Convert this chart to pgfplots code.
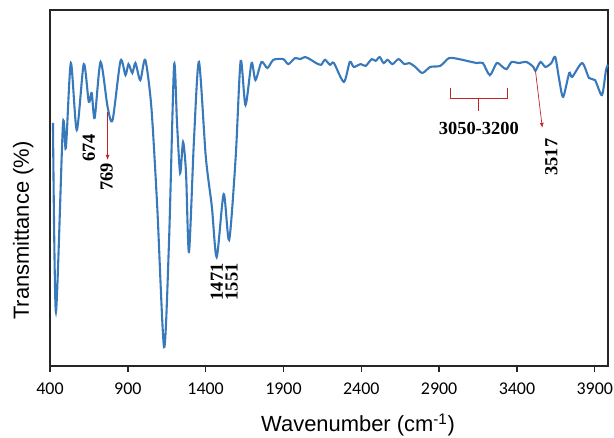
\documentclass[border=0pt]{standalone}
\usepackage{pgfplots}
\pgfplotsset{compat=1.18}
\usepackage{fontspec}
\usetikzlibrary{arrows.meta}
\setmainfont{Liberation Serif}
\newfontfamily\arialf{Liberation Sans}
\newfontfamily\calf{Carlito}
\definecolor{irblue}{RGB}{56,121,188}
\definecolor{arrred}{RGB}{192,36,36}

\begin{document}
\begin{tikzpicture}
\begin{axis}[
    name=ax,
    scale only axis,
    width=558bp, height=356bp,
    xmin=400, xmax=3985,
    ymin=0, ymax=100,
    axis line style={line width=1.6pt, black!85},
    xtick={400,900,...,3900},
    ytick=\empty,
    tick align=outside,
    xtick pos=bottom,
    major tick length=6pt,
    tick style={line width=1.4pt, black!85},
    /pgf/number format/assume math mode=true,
    /pgf/number format/set thousands separator={},
    xticklabel style={font=\calf\fontsize{18}{20}\selectfont, yshift=-7pt},
    xlabel={Wavenumber (cm\textsuperscript{-1})},
    ylabel={Transmittance (\%)},
    xlabel style={font=\arialf\fontsize{22}{24}\selectfont, at={(axis description cs:0.552,-0.166)}, anchor=center},
    ylabel style={font=\arialf\fontsize{22}{24}\selectfont, at={(axis description cs:-0.048,0.38)}, anchor=center},
    clip=false,
]
\addplot[irblue, line width=2.1pt, smooth, tension=0.45] coordinates {
(419,68.3) (438,15.2) (483,67.7) (502,61.2) (534,85.1) (572,66.3) (617,84.8)
(649,74.2) (668,76.7) (687,69.7) (725,85.4) (770,72.8) (802,69.1) (853,85.7)
(885,81.7) (904,84.8) (929,82.3) (949,85.1) (980,80.3) (1012,86.0) (1051,72.8)
(1089,44.7) (1133,5.3) (1165,35.4) (1197,84.3) (1216,68.3) (1236,54.2) (1255,62.9)
(1274,54.2) (1293,32.0) (1325,63.5) (1357,85.4) (1401,58.7) (1440,44.7) (1471,30.6)
(1516,48.3) (1551,35.4) (1593,58.7) (1625,85.7) (1656,73.3) (1695,85.1) (1720,80.3)
(1759,85.4) (1797,83.7) (1835,86.0) (1899,86.2) (1931,84.8) (1975,86.5) (2007,86.2)
(2039,86.8) (2077,86.0) (2109,85.1) (2141,84.6) (2167,86.0) (2199,84.6) (2224,85.1)
(2288,79.8) (2326,85.4) (2352,84.0) (2396,84.8) (2428,84.3) (2467,86.2) (2492,85.7)
(2518,86.8) (2543,85.1) (2569,86.0) (2600,84.8) (2639,86.2) (2677,84.8) (2709,85.1)
(2747,84.0) (2792,82.3) (2843,84.0) (2907,84.3) (2964,86.5) (3028,86.2) (3079,85.7)
(3143,85.1) (3181,85.1) (3226,81.7) (3270,85.1) (3308,84.0) (3334,83.4) (3366,85.4)
(3410,85.1) (3461,85.4) (3506,84.0) (3519,82.9) (3551,85.4) (3583,84.0) (3621,85.1)
(3646,86.8) (3672,80.3) (3697,75.6) (3736,82.3) (3755,81.2) (3819,85.1) (3863,80.9)
(3902,80.3) (3946,76.1) (3972,83.1) (3985,84.6)
};
% annotations
\draw[arrred, line width=0.7pt, -{Latex[length=5pt,width=4pt]}] (axis cs:770,71.3) -- (axis cs:770,57.9);
\draw[arrred, line width=0.7pt, -{Latex[length=5pt,width=4pt]}] (axis cs:3519,82.9) -- (axis cs:3563,66.9);
\draw[arrred, line width=0.7pt] (axis cs:2970,78.1) -- (axis cs:2970,75.3) -- (axis cs:3340,75.3) -- (axis cs:3340,78.1)
    (axis cs:3155,75.3) -- (axis cs:3155,71.6);
\begin{scope}[font=\bfseries\fontsize{18.5}{20}\selectfont]
\node[rotate=90] at (axis cs:649,61.2) {674};
\node[rotate=90] at (axis cs:764,53.1) {769};
\node[rotate=90] at (axis cs:1471,23.6) {1471};
\node[rotate=90] at (axis cs:1567,23.6) {1551};
\node[rotate=90] at (axis cs:3621,58.7) {3517};
\node at (axis cs:3155,66.6) {3050-3200};
\end{scope}
\end{axis}
\pgfresetboundingbox
\path[use as bounding box] (ax.south west) ++(-50bp,-72bp) rectangle ([shift={(6bp,10bp)}]ax.north east);
\end{tikzpicture}
\end{document}
